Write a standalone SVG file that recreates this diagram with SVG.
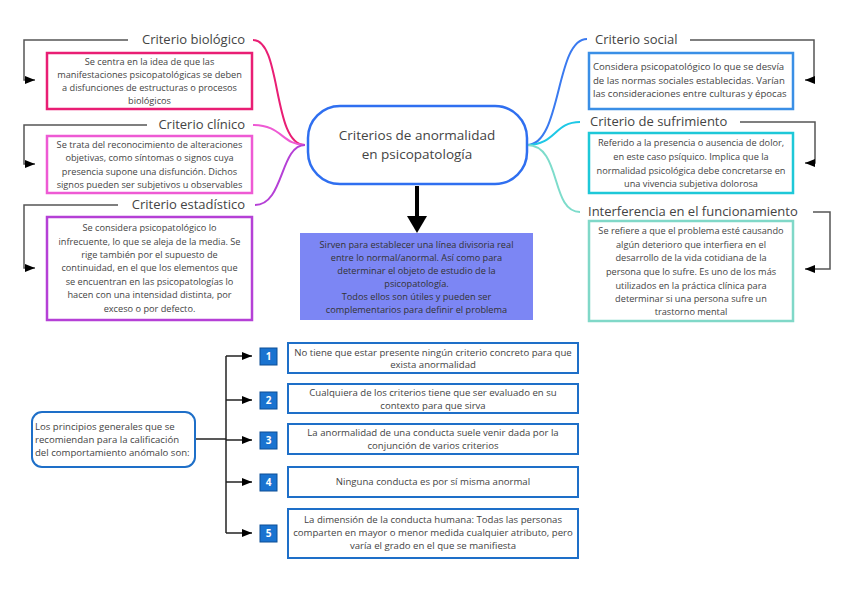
<svg xmlns="http://www.w3.org/2000/svg" width="848" height="599" viewBox="0 0 848 599">
<defs>
<marker id="ah" viewBox="0 0 10 8" refX="10" refY="4" markerWidth="10" markerHeight="8" markerUnits="userSpaceOnUse" orient="auto">
<path d="M0,0 L10,4 L0,8 Z" fill="#000"/>
</marker>
<style>
text{font-family:"Open Sans","Liberation Sans",sans-serif;fill:#444}
.t{font-size:9.2px;text-anchor:middle}
.tl{font-size:9.6px}
.tb{font-size:9.6px;text-anchor:middle}
.lab{font-size:13px}
.box{fill:#fff;stroke-width:2.5}
.con{fill:none;stroke:#555;stroke-width:1.5}
.bc{fill:none;stroke:#222;stroke-width:1.5}
.br{fill:none;stroke-width:2}
.bb{fill:#fff;stroke:#1e6fc8;stroke-width:2}
.num{fill:#1a73d0;stroke:#0d4f96;stroke-width:1}
.nt{font-size:10px;font-weight:bold;fill:#fff;text-anchor:middle}
</style>
</defs>
<rect width="848" height="599" fill="#fff"/>

<g id="connectors">
<path class="br" stroke="#e91e74" d="M253,40 C282,40 272,145 305,145"/>
<path class="br" stroke="#ee5ad4" d="M253,125 C282,125 282,145 305,145"/>
<path class="br" stroke="#b540d6" d="M255,205 C284,205 280,145 305,145"/>
<path class="br" stroke="#3a7af0" d="M527,145 C562,145 555,39 587,39"/>
<path class="br" stroke="#1ec8e6" d="M527,145 C556,145 554,122 580,122"/>
<path class="br" stroke="#7ddccb" d="M527,145 C562,145 550,212 580,212"/>
<path class="con" d="M128,40 H24 V80 H35" marker-end="url(#ah)"/>
<path class="con" d="M147,125 H24 V164 H35" marker-end="url(#ah)"/>
<path class="con" d="M118,205 H24 V268 H35" marker-end="url(#ah)"/>
<path class="con" d="M690,40 H814 V80 H805" marker-end="url(#ah)"/>
<path class="con" d="M740,122 H815 V163 H805" marker-end="url(#ah)"/>
<path class="con" d="M813,212 H830 V269 H805" marker-end="url(#ah)"/>
<line x1="417" y1="186" x2="417" y2="218" stroke="#000" stroke-width="4"/>
<path d="M407,216 L427,216 L417,233 Z" fill="#000"/>
<path class="bc" d="M195,439 H226"/>
<path class="bc" d="M226,356 V533"/>
<path class="bc" d="M226,356 H252" marker-end="url(#ah)"/>
<path class="bc" d="M226,400 H252" marker-end="url(#ah)"/>
<path class="bc" d="M226,440 H252" marker-end="url(#ah)"/>
<path class="bc" d="M226,482 H252" marker-end="url(#ah)"/>
<path class="bc" d="M226,533 H252" marker-end="url(#ah)"/>
</g>

<g id="center">
<rect x="308" y="106" width="219" height="78" rx="32" fill="#fff" stroke="#2f6ff0" stroke-width="2.5"/>
<text x="417" y="140" class="lab" text-anchor="middle" style="font-size:13.5px">Criterios de anormalidad</text>
<text x="417" y="159" class="lab" text-anchor="middle" style="font-size:13.5px">en psicopatología</text>
</g>

<g id="summary">
<rect x="300" y="233" width="233" height="87" fill="#7c86f4"/>
<text class="t" style="fill:#333"><tspan x="416.5" y="248">Sirven para establecer una línea divisoria real</tspan><tspan x="416.5" y="261">entre lo normal/anormal. Así como para</tspan><tspan x="416.5" y="274">determinar el objeto de estudio de la</tspan><tspan x="416.5" y="287">psicopatología.</tspan><tspan x="416.5" y="300">Todos ellos son útiles y pueden ser</tspan><tspan x="416.5" y="313">complementarios para definir el problema</tspan></text>
</g>

<g id="biologico">
<text x="245" y="44" class="lab" text-anchor="end">Criterio biológico</text>
<rect x="47" y="53" width="205" height="56" class="box" stroke="#e91e74"/>
<text class="t"><tspan x="149.5" y="65">Se centra en la idea de que las</tspan><tspan x="149.5" y="78">manifestaciones psicopatológicas se deben</tspan><tspan x="149.5" y="91">a disfunciones de estructuras o procesos</tspan><tspan x="149.5" y="104">biológicos</tspan></text>
</g>

<g id="clinico">
<text x="245" y="129" class="lab" text-anchor="end">Criterio clínico</text>
<rect x="47" y="136" width="205" height="57" class="box" stroke="#ee5ad4"/>
<text class="t"><tspan x="149.5" y="148">Se trata del reconocimiento de alteraciones</tspan><tspan x="149.5" y="161">objetivas, como síntomas o signos cuya</tspan><tspan x="149.5" y="175">presencia supone una disfunción. Dichos</tspan><tspan x="149.5" y="188">signos pueden ser subjetivos u observables</tspan></text>
</g>

<g id="estadistico">
<text x="245" y="209" class="lab" text-anchor="end">Criterio estadístico</text>
<rect x="47" y="217" width="205" height="103" class="box" stroke="#b540d6"/>
<text class="t"><tspan x="149.5" y="231">Se considera psicopatológico lo</tspan><tspan x="149.5" y="245">infrecuente, lo que se aleja de la media. Se</tspan><tspan x="149.5" y="258">rige también por el supuesto de</tspan><tspan x="149.5" y="271">continuidad, en el que los elementos que</tspan><tspan x="149.5" y="285">se encuentran en las psicopatologías lo</tspan><tspan x="149.5" y="298">hacen con una intensidad distinta, por</tspan><tspan x="149.5" y="312">exceso o por defecto.</tspan></text>
</g>

<g id="social">
<text x="595" y="44" class="lab">Criterio social</text>
<rect x="589" y="53" width="204" height="56" class="box" stroke="#3a8fe6"/>
<text class="tl"><tspan x="593" y="70">Considera psicopatológico lo que se desvía</tspan><tspan x="593" y="84">de las normas sociales establecidas. Varían</tspan><tspan x="593" y="97">las consideraciones entre culturas y épocas</tspan></text>
</g>

<g id="sufrimiento">
<text x="590" y="126" class="lab">Criterio de sufrimiento</text>
<rect x="589" y="133" width="204" height="60" class="box" stroke="#1ec8d8"/>
<text class="t"><tspan x="691" y="146">Referido a la presencia o ausencia de dolor,</tspan><tspan x="691" y="160">en este caso psíquico. Implica que la</tspan><tspan x="691" y="174">normalidad psicológica debe concretarse en</tspan><tspan x="691" y="187">una vivencia subjetiva dolorosa</tspan></text>
</g>

<g id="interferencia">
<text x="588" y="216" class="lab">Interferencia en el funcionamiento</text>
<rect x="589" y="221" width="204" height="100" class="box" stroke="#80d8c8"/>
<text class="t"><tspan x="691" y="234">Se refiere a que el problema esté causando</tspan><tspan x="691" y="248">algún deterioro que interfiera en el</tspan><tspan x="691" y="261">desarrollo de la vida cotidiana de la</tspan><tspan x="691" y="275">persona que lo sufre. Es uno de los más</tspan><tspan x="691" y="289">utilizados en la práctica clínica para</tspan><tspan x="691" y="302">determinar si una persona sufre un</tspan><tspan x="691" y="315">trastorno mental</tspan></text>
</g>

<g id="principios">
<rect x="32" y="412" width="163" height="55" rx="10" fill="#fff" stroke="#1e6fc8" stroke-width="2"/>
<text class="tl"><tspan x="35" y="430">Los principios generales que se</tspan><tspan x="35" y="443">recomiendan para la calificación</tspan><tspan x="35" y="456">del comportamiento anómalo son:</tspan></text>
</g>

<g id="p1">
<rect x="260" y="348" width="17" height="17" class="num"/>
<text x="268.5" y="360" class="nt">1</text>
<rect x="288" y="343" width="290" height="30" class="bb"/>
<text class="tb"><tspan x="433" y="356">No tiene que estar presente ningún criterio concreto para que</tspan><tspan x="433" y="368">exista anormalidad</tspan></text>
</g>

<g id="p2">
<rect x="260" y="392" width="17" height="17" class="num"/>
<text x="268.5" y="404" class="nt">2</text>
<rect x="288" y="384" width="290" height="29" class="bb"/>
<text class="tb"><tspan x="433" y="396">Cualquiera de los criterios tiene que ser evaluado en su</tspan><tspan x="433" y="409">contexto para que sirva</tspan></text>
</g>

<g id="p3">
<rect x="260" y="432" width="17" height="17" class="num"/>
<text x="268.5" y="444" class="nt">3</text>
<rect x="288" y="424" width="290" height="30" class="bb"/>
<text class="tb"><tspan x="433" y="436">La anormalidad de una conducta suele venir dada por la</tspan><tspan x="433" y="449">conjunción de varios criterios</tspan></text>
</g>

<g id="p4">
<rect x="260" y="474" width="17" height="17" class="num"/>
<text x="268.5" y="486" class="nt">4</text>
<rect x="288" y="467" width="290" height="30" class="bb"/>
<text x="433" y="485" class="tb">Ninguna conducta es por sí misma anormal</text>
</g>

<g id="p5">
<rect x="260" y="525" width="17" height="17" class="num"/>
<text x="268.5" y="537" class="nt">5</text>
<rect x="288" y="509" width="290" height="49" class="bb"/>
<text class="tb"><tspan x="433" y="523">La dimensión de la conducta humana: Todas las personas</tspan><tspan x="433" y="536">comparten en mayor o menor medida cualquier atributo, pero</tspan><tspan x="433" y="549">varía el grado en el que se manifiesta</tspan></text>
</g>
</svg>
